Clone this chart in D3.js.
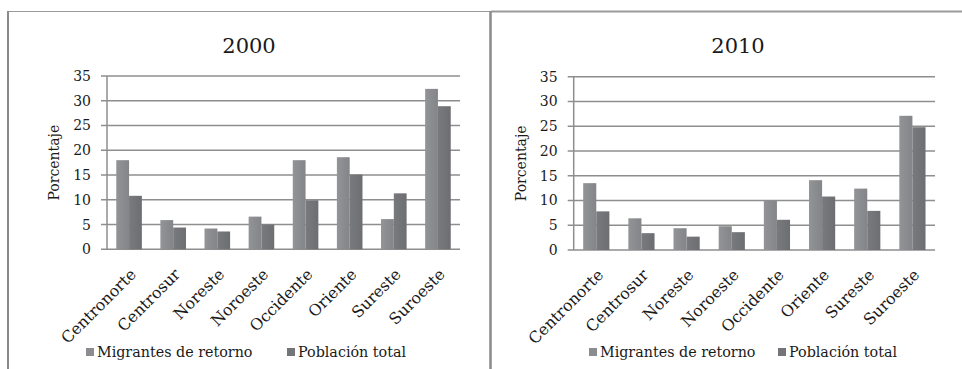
<!DOCTYPE html>
<html><head><meta charset="utf-8">
<script src="https://cdn.jsdelivr.net/npm/d3@7"></script>
<style>
html,body{margin:0;padding:0;background:#fff;}
svg text{font-family:"DejaVu Serif","Liberation Serif",serif;fill:#1a1a1a;}
</style></head>
<body>
<svg id="chart" width="962" height="369"></svg>
<script>
const categories = ["Centronorte","Centrosur","Noreste","Noroeste","Occidente","Oriente","Sureste","Suroeste"];
const seriesNames = ["Migrantes de retorno","Población total"];
const migrantes2000 = [18.0, 5.9, 4.2, 6.6, 18.0, 18.6, 6.1, 32.4];
const poblacion2000 = [10.8, 4.4, 3.6, 5.0, 9.9, 15.1, 11.3, 28.9];
const migrantes2010 = [13.5, 6.4, 4.4, 4.8, 9.9, 14.1, 12.4, 27.1];
const poblacion2010 = [7.8, 3.4, 2.7, 3.6, 6.1, 10.8, 7.9, 24.8];
const yTicks = [0,5,10,15,20,25,30,35];
const titles = ["2000","2010"];

const svg = d3.select("#chart");
const colors = ["#8b8c8f","#737477"];

const defs = svg.append("defs");
colors.forEach((c,i)=>{
  const g = defs.append("linearGradient").attr("id","g"+i).attr("x1",0).attr("x2",1).attr("y1",0).attr("y2",0);
  g.append("stop").attr("offset","0%").attr("stop-color",d3.color(c).brighter(0.15));
  g.append("stop").attr("offset","50%").attr("stop-color",c);
  g.append("stop").attr("offset","100%").attr("stop-color",d3.color(c).darker(0.15));
});

// panel borders
svg.append("line").attr("x1",8).attr("x2",491).attr("y1",11.5).attr("y2",11.5).attr("stroke","#9a9a9a").attr("stroke-width",1.2);
svg.append("line").attr("x1",491).attr("x2",962).attr("y1",11.5).attr("y2",11.5).attr("stroke","#9a9a9a").attr("stroke-width",2);
svg.append("line").attr("x1",8).attr("x2",8).attr("y1",11).attr("y2",369).attr("stroke","#8a8a8a").attr("stroke-width",2);
svg.append("line").attr("x1",490.5).attr("x2",490.5).attr("y1",11).attr("y2",369).attr("stroke","#8a8a8a").attr("stroke-width",2.5);

const panels = [
  {title:titles[0], mig:migrantes2000, pob:poblacion2000, x0:107, x1:460, yTop:76, yBot:249.3, titleX:249, legX:[86,287]},
  {title:titles[1], mig:migrantes2010, pob:poblacion2010, x0:573.7, x1:935, yTop:76.7, yBot:250, titleX:738, legX:[589,778]}
];

panels.forEach(p=>{
  const g = svg.append("g");
  const x = d3.scaleBand().domain(categories).range([p.x0,p.x1]).paddingInner(0.42).paddingOuter(0.21);
  const x2 = d3.scaleBand().domain([0,1]).range([0,x.bandwidth()]);
  const y = d3.scaleLinear().domain([0,35]).range([p.yBot,p.yTop]);

  g.selectAll(".grid").data(yTicks).join("line")
    .attr("x1",p.x0-6).attr("x2",p.x1).attr("y1",d=>y(d)).attr("y2",d=>y(d))
    .attr("stroke","#8e8e8e").attr("stroke-width",1.5);
  g.append("line").attr("x1",p.x0).attr("x2",p.x0).attr("y1",p.yTop).attr("y2",p.yBot)
    .attr("stroke","#8e8e8e").attr("stroke-width",1.5);

  const yAxis = d3.axisLeft(y).tickValues(yTicks).tickSize(0).tickPadding(16);
  const ga = g.append("g").attr("transform",`translate(${p.x0},0)`).call(yAxis);
  ga.select(".domain").remove();
  ga.selectAll("text").style("font-family","DejaVu Serif").attr("font-size",14).attr("fill","#1a1a1a");

  categories.forEach((c,i)=>{
    [p.mig[i],p.pob[i]].forEach((v,k)=>{
      g.append("rect").attr("x",x(c)+x2(k)).attr("width",x2.bandwidth())
        .attr("y",y(v)).attr("height",y(0)-y(v)).attr("fill",`url(#g${k})`);
    });
  });

  categories.forEach(c=>{
    const cx = x(c)+x.bandwidth()/2+8;
    g.append("text").attr("transform",`translate(${cx},${p.yBot+26}) rotate(-45)`)
      .attr("text-anchor","end").attr("font-size",15.8).text(c);
  });

  g.append("text").attr("x",p.titleX).attr("y",53).attr("text-anchor","middle")
    .attr("font-size",21).text(p.title);

  g.append("text").attr("transform",`translate(${p.x0-48},${(p.yTop+p.yBot)/2}) rotate(-90)`)
    .attr("text-anchor","middle").attr("font-size",14).text("Porcentaje");

  seriesNames.forEach((s,k)=>{
    g.append("rect").attr("x",p.legX[k]).attr("y",348).attr("width",8).attr("height",8).attr("fill",colors[k]);
    g.append("text").attr("x",p.legX[k]+11).attr("y",356.5).attr("font-size",14.3).text(s);
  });
});
</script>
</body></html>
